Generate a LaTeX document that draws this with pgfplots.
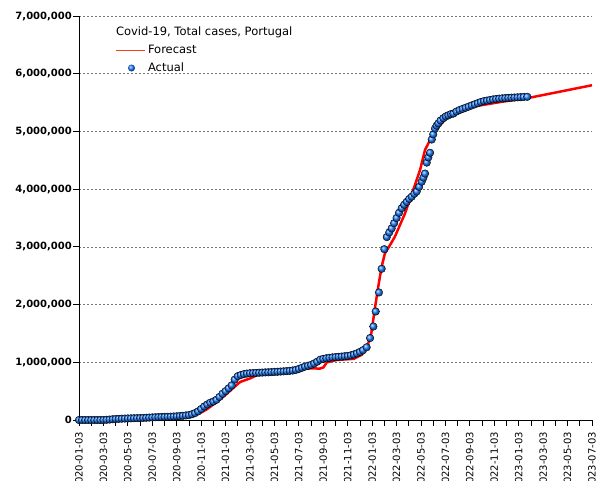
\documentclass[border=0pt]{standalone}
\usepackage{pgfplots}
\pgfplotsset{compat=1.18}
\usepackage{fontspec}
\setmainfont{DejaVu Sans}
\definecolor{fcred}{RGB}{255,0,0}
\definecolor{legred}{RGB}{255,60,20}
\definecolor{ballblue}{RGB}{30,125,255}
\definecolor{gridgray}{RGB}{120,120,120}
\begin{document}
\begin{tikzpicture}
\begin{axis}[
  at={(0pt,0pt)}, anchor=south west,
  scale only axis, width=513pt, height=404pt,
  xmin=0, xmax=42, ymin=0, ymax=7,
  clip=false,
  axis x line*=bottom, axis y line*=left,
  axis line style={black, line width=0.8pt},
  tick align=outside,
  major tick length=6pt, minor tick length=6pt,
  tick style={black, line width=0.8pt},
  xtick={0,2,...,42},
  minor xtick={1,3,...,41},
  xticklabels={2020-01-03,2020-03-03,2020-05-03,2020-07-03,2020-09-03,2020-11-03,2021-01-03,2021-03-03,2021-05-03,2021-07-03,2021-09-03,2021-11-03,2022-01-03,2022-03-03,2022-05-03,2022-07-03,2022-09-03,2022-11-03,2023-01-03,2023-03-03,2023-05-03,2023-07-03},
  xticklabel style={rotate=90, anchor=east, font=\fontsize{10}{12}\selectfont, inner sep=1pt},
  xticklabel shift=5pt,
  ytick={0,1,...,7},
  yticklabels={{0},{1,000,000},{2,000,000},{3,000,000},{4,000,000},{5,000,000},{6,000,000},{7,000,000}},
  yticklabel style={font=\fontsize{10}{12}\selectfont\bfseries, inner sep=1pt},
  ymajorgrids,
  grid style={gridgray, line width=0.6pt, dash pattern=on 2pt off 2pt},
  legend cell align=left,
  legend style={at={(0.0702,0.9752)}, anchor=north west, draw=none, fill=none,
    inner sep=0pt, outer sep=0pt, row sep=6pt, column sep=3pt,
    font=\fontsize{11.5}{14}\selectfont,
    nodes={inner sep=0pt, text height=9pt, text depth=3pt}},
]
\addlegendimage{empty legend}
\addlegendentry{\hspace*{-32pt}Covid-19, Total cases, Portugal}
% Forecast (legend only + line)
\addplot[fcred, line width=2.5pt,
  legend image code/.code={\draw[legred, line width=1pt] (0pt,0pt) -- (29pt,0pt);}]
  coordinates {(0,0)};
\addlegendentry{Forecast}
% Actual
\addplot[only marks, mark=ball, mark size=3.8pt, mark options={ball color=ballblue},
  legend image code/.code={\path[draw=none, fill=none] (0pt,0pt) -- (29pt,0pt); \shade[draw=none, ball color=ballblue] (16pt,0pt) circle[radius=3.5pt];}]
  coordinates {
(0,0)(0.25,0)(0.5,0)(0.75,0)(1,0)(1.25,0)(1.5,0)(1.75,0)(2,0.001)(2.25,0.004)(2.5,0.008)(2.75,0.013)
(3,0.017)(3.25,0.020)(3.5,0.023)(3.75,0.025)(4,0.027)(4.25,0.029)(4.5,0.031)(4.75,0.032)
(5,0.034)(5.25,0.036)(5.5,0.039)(5.75,0.042)(6,0.045)(6.25,0.048)(6.5,0.050)(6.75,0.052)
(7,0.054)(7.25,0.056)(7.5,0.058)(7.75,0.061)(8,0.064)(8.25,0.068)(8.5,0.073)(8.75,0.079)
(9,0.085)(9.25,0.10)(9.5,0.12)(9.75,0.15)(10,0.19)(10.25,0.235)(10.5,0.27)(10.75,0.30)
(11,0.32)(11.25,0.35)(11.5,0.40)(11.75,0.455)(12,0.50)(12.25,0.55)(12.5,0.60)(12.75,0.70)
(13,0.76)(13.25,0.78)(13.5,0.795)(13.75,0.805)(14,0.81)(14.25,0.813)(14.5,0.816)(14.75,0.819)
(15,0.822)(15.25,0.825)(15.5,0.827)(15.75,0.83)(16,0.833)(16.25,0.836)(16.5,0.84)(16.75,0.843)
(17,0.847)(17.25,0.852)(17.5,0.858)(17.75,0.868)(18,0.885)(18.25,0.905)(18.5,0.925)(18.75,0.94)
(19,0.955)(19.25,0.98)(19.5,1.01)(19.75,1.045)(20,1.06)(20.25,1.07)(20.5,1.078)(20.75,1.085)
(21,1.09)(21.25,1.095)(21.5,1.10)(21.75,1.105)(22,1.11)(22.25,1.12)(22.5,1.135)(22.75,1.155)
(23,1.18)(23.25,1.21)(23.55,1.26)(23.83,1.42)(24.1,1.62)(24.29,1.88)(24.56,2.21)(24.78,2.62)
(25.0,2.96)(25.2,3.17)(25.4,3.25)(25.6,3.32)(25.8,3.41)(26.0,3.50)(26.2,3.59)(26.42,3.67)
(26.62,3.73)(26.83,3.78)(27.03,3.83)(27.24,3.87)(27.45,3.92)(27.65,3.96)(27.85,4.04)(28.06,4.13)
(28.2,4.20)(28.33,4.27)(28.47,4.46)(28.6,4.55)(28.74,4.63)(28.88,4.86)(29.0,4.95)(29.15,5.05)
(29.28,5.10)(29.42,5.14)(29.6,5.19)(29.83,5.23)(30.03,5.26)(30.24,5.28)(30.45,5.30)(30.65,5.31)
(30.9,5.345)(31.15,5.37)(31.4,5.39)(31.65,5.41)(31.9,5.43)(32.15,5.45)(32.4,5.47)(32.65,5.49)
(32.9,5.51)(33.15,5.525)(33.4,5.535)(33.65,5.545)(33.9,5.555)(34.15,5.562)(34.4,5.568)(34.65,5.574)
(34.9,5.578)(35.15,5.582)(35.4,5.585)(35.65,5.588)(35.9,5.591)(36.15,5.594)(36.4,5.597)(36.7,5.60)
  };
\addlegendentry{Actual}
% Forecast line drawn on top
\addplot[fcred, line width=2.5pt, forget plot] coordinates {
(0,0)(2,0.003)(3.4,0.025)(5,0.033)(7,0.045)(8.5,0.06)(9.2,0.085)(10,0.13)(10.5,0.19)
(11.0,0.27)(11.8,0.40)(12.6,0.55)(13.2,0.66)(14.0,0.72)(14.8,0.80)(16.2,0.85)(17.3,0.88)
(19.2,0.895)(19.7,0.89)(20.0,0.91)(20.3,1.0)(21.1,1.04)(22.5,1.06)(23.15,1.13)(23.55,1.24)
(23.93,1.5)(24.2,1.9)(24.5,2.31)(24.78,2.66)(25.05,2.89)(25.46,3.03)(25.87,3.18)(26.69,3.58)
(27.37,3.99)(27.92,4.33)(28.33,4.68)(28.74,4.85)(29.42,5.08)(30.1,5.23)(30.78,5.31)(31.74,5.39)
(32.26,5.43)(34.5,5.51)(36.8,5.58)(42,5.80)
};
\end{axis}
\pgfresetboundingbox
\path[use as bounding box] (-79pt,-60pt) rectangle (526pt,420pt);
\end{tikzpicture}
\end{document}
